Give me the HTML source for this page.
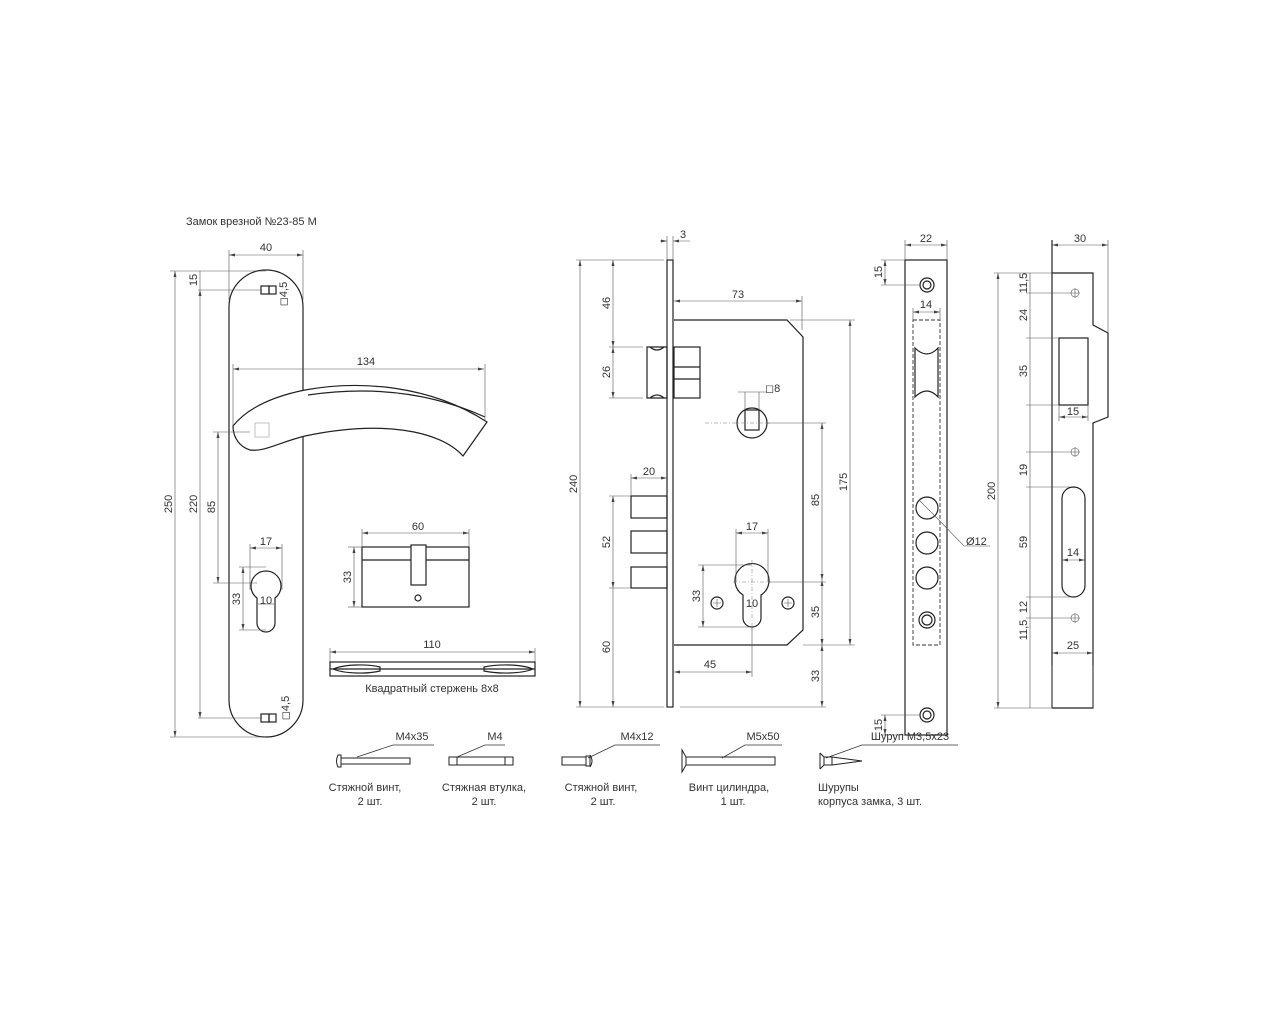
<!DOCTYPE html>
<html><head><meta charset="utf-8"><style>
html,body{margin:0;padding:0;background:#fff}
svg{display:block}
text{font-family:"Liberation Sans Narrow","Liberation Sans",sans-serif;font-size:11px;fill:#333}
.o{fill:none;stroke:#222;stroke-width:1.2}
.d{fill:none;stroke:#555;stroke-width:0.6}
.c{fill:none;stroke:#777;stroke-width:0.5;stroke-dasharray:4 2 1 2}
.h{fill:none;stroke:#333;stroke-width:0.9;stroke-dasharray:4 2}
</style></head><body>
<svg width="1280" height="1024" viewBox="0 0 1280 1024" xmlns="http://www.w3.org/2000/svg">
<defs>
<marker id="a" markerWidth="6" markerHeight="6" refX="6" refY="3" orient="auto-start-reverse" markerUnits="userSpaceOnUse"><path d="M0,1.5 L6,3 L0,4.5z" fill="#444"/></marker>
</defs>
<g id="dims" class="d">
</g>
<text x="186" y="225">Замок врезной №23-85 М</text>

<!-- Handle plate -->
<path class="o" d="M229,307 A37,37 0 0 1 303,307 L303,700 A37,37 0 0 1 229,700 Z"/>
<rect class="o" x="261" y="286" width="8" height="8"/><rect class="o" x="269" y="286" width="7" height="8"/>
<rect class="o" x="261" y="714" width="8" height="8"/><rect class="o" x="269" y="714" width="7" height="8"/>
<text x="283" y="294" transform="rotate(-90 283 294)" text-anchor="middle" dy="4">◻4,5</text>
<text x="285" y="708" transform="rotate(-90 285 708)" text-anchor="middle" dy="4">◻4,5</text>
<!-- lever -->
<path class="o" fill="#fff" style="fill:#fff" d="M233,426 C250,405 280,395 305,390 C360,380 430,385 487,422 L463,456 C440,430 380,420 305,436 C280,442 265,452 250,450 C240,447 233,438 233,426 Z"/>
<path class="o" d="M308,395 C370,386 430,392 485,417"/>
<rect x="255" y="423" width="14" height="14" fill="none" stroke="#aaa" stroke-width="0.7"/>
<!-- cylinder hole on plate -->
<path class="o" d="M257,598 A15,15 0 1 1 275,598 L275,623 A9,9 0 0 1 257,623 Z"/>
<!-- handle dims -->
<g class="d">
<line x1="175" y1="271" x2="175" y2="737" marker-start="url(#a)" marker-end="url(#a)"/>
<line x1="170" y1="271" x2="266" y2="271"/><line x1="170" y1="737" x2="266" y2="737"/>
<line x1="200" y1="290" x2="200" y2="718" marker-start="url(#a)" marker-end="url(#a)"/>
<line x1="198" y1="290" x2="262" y2="290"/><line x1="198" y1="718" x2="262" y2="718"/>
<line x1="200" y1="271" x2="200" y2="290"/>
<line x1="218" y1="432" x2="218" y2="583" marker-start="url(#a)" marker-end="url(#a)"/>
<line x1="213" y1="432" x2="250" y2="432"/><line x1="213" y1="583" x2="257" y2="583"/>
<line x1="229" y1="255" x2="303" y2="255" marker-start="url(#a)" marker-end="url(#a)"/>
<line x1="229" y1="250" x2="229" y2="300"/><line x1="303" y1="250" x2="303" y2="300"/>
<line x1="233" y1="369" x2="484" y2="369" marker-start="url(#a)" marker-end="url(#a)"/>
<line x1="233" y1="364" x2="233" y2="426"/><line x1="485" y1="364" x2="485" y2="420"/>
<line x1="243" y1="567" x2="243" y2="630" marker-start="url(#a)" marker-end="url(#a)"/>
<line x1="239" y1="567" x2="266" y2="567"/><line x1="239" y1="630" x2="266" y2="630"/>
<line x1="250" y1="548" x2="282" y2="548" marker-start="url(#a)" marker-end="url(#a)"/>
<line x1="250" y1="544" x2="250" y2="590"/><line x1="282" y1="544" x2="282" y2="590"/>
<line x1="258" y1="604" x2="274" y2="604"/>
</g>
<text x="266" y="251" text-anchor="middle">40</text>
<text x="366" y="365" text-anchor="middle">134</text>
<text x="266" y="545" text-anchor="middle">17</text>
<text x="266" y="604" text-anchor="middle">10</text>
<text transform="translate(172,504) rotate(-90)" text-anchor="middle">250</text>
<text transform="translate(197,504) rotate(-90)" text-anchor="middle">220</text>
<text transform="translate(215,507) rotate(-90)" text-anchor="middle">85</text>
<text transform="translate(197,280) rotate(-90)" text-anchor="middle">15</text>
<text transform="translate(240,599) rotate(-90)" text-anchor="middle">33</text>

<!-- cylinder -->
<rect class="o" x="362" y="547" width="107" height="60"/>
<line class="o" x1="362" y1="560" x2="469" y2="560"/>
<rect class="o" x="411" y="545" width="15" height="40" style="fill:#fff"/>
<circle class="o" cx="418" cy="598" r="3"/>
<g class="d">
<line x1="362" y1="533" x2="469" y2="533" marker-start="url(#a)" marker-end="url(#a)"/>
<line x1="362" y1="529" x2="362" y2="547"/><line x1="469" y1="529" x2="469" y2="547"/>
<line x1="354" y1="547" x2="354" y2="607" marker-start="url(#a)" marker-end="url(#a)"/>
<line x1="348" y1="547" x2="362" y2="547"/><line x1="348" y1="607" x2="362" y2="607"/>
</g>
<text x="418" y="530" text-anchor="middle">60</text>
<text transform="translate(351,577) rotate(-90)" text-anchor="middle">33</text>

<!-- square bar -->
<g class="d"><line x1="330" y1="652" x2="535" y2="652" marker-start="url(#a)" marker-end="url(#a)"/>
<line x1="330" y1="648" x2="330" y2="662"/><line x1="535" y1="648" x2="535" y2="662"/></g>
<rect class="o" x="330" y="662" width="205" height="14"/>
<line class="o" x1="330" y1="669" x2="535" y2="669"/>
<path class="o" d="M333,669 C345,664 368,664 380,667 L380,671 C368,674 345,674 333,669Z"/>
<path class="o" d="M533,669 C521,664 498,664 484,667 L484,671 C498,674 521,674 533,669Z"/>
<text x="432" y="648" text-anchor="middle">110</text>
<text x="432" y="692" text-anchor="middle">Квадратный стержень 8x8</text>

<!-- lock body -->
<rect class="o" x="667" y="260" width="6" height="447"/>
<path class="o" d="M674,320 L787,320 L803,337 L803,630 L787,645 L674,645"/>
<path class="o" d="M647,347 L667,347 L667,398 L647,398 Z M650,347 Q657,353 664,347 M650,398 Q657,392 664,398"/>
<rect class="o" x="674" y="347" width="26" height="51"/>
<line class="o" x1="674" y1="367" x2="700" y2="367"/><line class="o" x1="674" y1="379" x2="700" y2="379"/>
<rect class="o" x="631" y="496" width="36" height="22"/>
<rect class="o" x="631" y="531" width="36" height="22"/>
<rect class="o" x="631" y="567" width="36" height="21"/>
<circle class="o" cx="752" cy="423" r="15"/>
<rect class="o" x="745" y="410" width="14" height="20"/>
<line class="c" x1="705" y1="423" x2="770" y2="423"/>
<path class="o" d="M743,595 A17,17 0 1 1 761,595 L761,618 A9,9 0 0 1 743,618 Z"/>
<line class="c" x1="752" y1="560" x2="752" y2="630"/>
<line class="c" x1="733" y1="582" x2="771" y2="582"/>
<circle class="o" cx="717" cy="603" r="6"/><path class="d" d="M713,603h8M717,599v8"/>
<circle class="o" cx="788" cy="603" r="6"/><path class="d" d="M784,603h8M788,599v8"/>
<g class="d">
<line x1="580" y1="260" x2="580" y2="707" marker-start="url(#a)" marker-end="url(#a)"/>
<line x1="576" y1="260" x2="664" y2="260"/><line x1="576" y1="707" x2="664" y2="707"/>
<line x1="613" y1="260" x2="613" y2="347" marker-start="url(#a)" marker-end="url(#a)"/>
<line x1="613" y1="347" x2="613" y2="398" marker-start="url(#a)" marker-end="url(#a)"/>
<line x1="609" y1="347" x2="643" y2="347"/><line x1="609" y1="398" x2="643" y2="398"/>
<line x1="613" y1="496" x2="613" y2="588" marker-start="url(#a)" marker-end="url(#a)"/>
<line x1="609" y1="496" x2="631" y2="496"/><line x1="609" y1="588" x2="631" y2="588"/>
<line x1="613" y1="588" x2="613" y2="707" marker-end="url(#a)"/>
<line x1="631" y1="478" x2="667" y2="478" marker-start="url(#a)" marker-end="url(#a)"/>
<line x1="631" y1="474" x2="631" y2="496"/>
<line x1="660" y1="241" x2="667" y2="241" marker-end="url(#a)"/><line x1="673" y1="241" x2="690" y2="241" marker-start="url(#a)"/>
<line x1="667" y1="236" x2="667" y2="260"/><line x1="673" y1="236" x2="673" y2="260"/>
<line x1="674" y1="301" x2="802" y2="301" marker-start="url(#a)" marker-end="url(#a)"/>
<line x1="802" y1="296" x2="802" y2="330"/>
<line x1="850" y1="320" x2="850" y2="645" marker-start="url(#a)" marker-end="url(#a)"/>
<line x1="790" y1="320" x2="855" y2="320"/><line x1="803" y1="645" x2="855" y2="645"/>
<line x1="822" y1="423" x2="822" y2="580" marker-start="url(#a)" marker-end="url(#a)"/>
<line x1="822" y1="580" x2="822" y2="645" marker-start="url(#a)" marker-end="url(#a)"/>
<line x1="822" y1="645" x2="822" y2="707" marker-start="url(#a)" marker-end="url(#a)"/>
<line x1="767" y1="423" x2="826" y2="423"/><line x1="769" y1="582" x2="826" y2="582"/>
<line x1="680" y1="707" x2="826" y2="707"/>
<line x1="736" y1="533" x2="768" y2="533" marker-start="url(#a)" marker-end="url(#a)"/>
<line x1="736" y1="529" x2="736" y2="582"/><line x1="768" y1="529" x2="768" y2="582"/>
<line x1="703" y1="565" x2="703" y2="627" marker-start="url(#a)" marker-end="url(#a)"/>
<line x1="698" y1="565" x2="752" y2="565"/><line x1="698" y1="627" x2="752" y2="627"/>
<line x1="674" y1="672" x2="752" y2="672" marker-start="url(#a)" marker-end="url(#a)"/>
<line x1="752" y1="627" x2="752" y2="677"/>
<line x1="745" y1="392" x2="745" y2="410"/><line x1="759" y1="392" x2="759" y2="410"/>
<line x1="738" y1="392" x2="766" y2="392"/>
</g>
<text x="680" y="238">3</text>
<text x="738" y="298" text-anchor="middle">73</text>
<text x="649" y="475" text-anchor="middle">20</text>
<text x="752" y="530" text-anchor="middle">17</text>
<text x="752" y="607" text-anchor="middle">10</text>
<text x="710" y="668" text-anchor="middle">45</text>
<text x="765" y="392">◻8</text>
<text transform="translate(577,484) rotate(-90)" text-anchor="middle">240</text>
<text transform="translate(610,303) rotate(-90)" text-anchor="middle">46</text>
<text transform="translate(610,372) rotate(-90)" text-anchor="middle">26</text>
<text transform="translate(610,542) rotate(-90)" text-anchor="middle">52</text>
<text transform="translate(610,647) rotate(-90)" text-anchor="middle">60</text>
<text transform="translate(847,482) rotate(-90)" text-anchor="middle">175</text>
<text transform="translate(819,500) rotate(-90)" text-anchor="middle">85</text>
<text transform="translate(819,612) rotate(-90)" text-anchor="middle">35</text>
<text transform="translate(819,676) rotate(-90)" text-anchor="middle">33</text>
<text transform="translate(700,596) rotate(-90)" text-anchor="middle">33</text>

<!-- face plate -->
<rect class="o" x="905" y="260" width="42" height="475"/>
<circle class="o" cx="927" cy="285" r="7"/><circle class="o" cx="927" cy="285" r="4"/>
<circle class="o" cx="927" cy="715" r="7"/><circle class="o" cx="927" cy="715" r="4"/>
<rect class="h" x="913" y="320" width="27" height="325"/>
<path class="o" d="M915,348 Q927,360 938,348 L938,397 Q927,385 915,397 Z"/>
<circle class="o" cx="927" cy="508" r="11"/>
<circle class="o" cx="927" cy="543" r="11"/>
<circle class="o" cx="927" cy="578" r="11"/>
<circle class="o" cx="927" cy="620" r="8"/><circle class="o" cx="927" cy="620" r="5"/>
<g class="d">
<line x1="905" y1="245" x2="947" y2="245" marker-start="url(#a)" marker-end="url(#a)"/>
<line x1="905" y1="240" x2="905" y2="260"/><line x1="947" y1="240" x2="947" y2="260"/>
<line x1="885" y1="260" x2="885" y2="285" marker-start="url(#a)" marker-end="url(#a)"/>
<line x1="881" y1="260" x2="905" y2="260"/><line x1="881" y1="285" x2="920" y2="285"/>
<line x1="885" y1="715" x2="885" y2="735" marker-start="url(#a)" marker-end="url(#a)"/>
<line x1="881" y1="715" x2="920" y2="715"/><line x1="881" y1="735" x2="905" y2="735"/>
<line x1="913" y1="312" x2="940" y2="312" marker-start="url(#a)" marker-end="url(#a)"/>
<line x1="913" y1="308" x2="913" y2="320"/><line x1="940" y1="308" x2="940" y2="320"/>
<line x1="919" y1="500" x2="935" y2="516"/>
<polyline points="935,516 964,546 990,546"/>
</g>
<text x="926" y="242" text-anchor="middle">22</text>
<text x="926" y="308" text-anchor="middle">14</text>
<text x="966" y="545">Ø12</text>
<text transform="translate(882,272) rotate(-90)" text-anchor="middle">15</text>
<text transform="translate(882,725) rotate(-90)" text-anchor="middle">15</text>

<!-- strike plate -->
<line class="o" x1="1052" y1="240" x2="1052" y2="708"/>
<path class="o" d="M1052,273 L1093,273 L1093,325 L1108,333 L1108,417 L1093,423 L1093,708 L1052,708"/>
<rect class="o" x="1059" y="338" width="29" height="67"/>
<rect class="o" x="1062" y="487" width="23" height="110" rx="11.5"/>
<g class="d">
<path d="M1070,293h10M1075,288v10"/><circle cx="1075" cy="293" r="4"/>
<path d="M1070,452h10M1075,447v10"/><circle cx="1075" cy="452" r="4"/>
<path d="M1070,618h10M1075,613v10"/><circle cx="1075" cy="618" r="4"/>
<line x1="1052" y1="245" x2="1108" y2="245" marker-start="url(#a)" marker-end="url(#a)"/>
<line x1="1108" y1="240" x2="1108" y2="333"/>
<line x1="998" y1="273" x2="998" y2="708" marker-start="url(#a)" marker-end="url(#a)"/>
<line x1="994" y1="273" x2="1052" y2="273"/><line x1="994" y1="708" x2="1052" y2="708"/>
<line x1="1030" y1="273" x2="1030" y2="708"/>
<line x1="1026" y1="293" x2="1070" y2="293"/>
<line x1="1026" y1="338" x2="1059" y2="338"/><line x1="1026" y1="405" x2="1059" y2="405"/>
<line x1="1026" y1="452" x2="1070" y2="452"/>
<line x1="1026" y1="487" x2="1070" y2="487"/><line x1="1026" y1="597" x2="1070" y2="597"/>
<line x1="1026" y1="618" x2="1070" y2="618"/>
<line x1="1059" y1="417" x2="1088" y2="417" marker-start="url(#a)" marker-end="url(#a)"/>
<line x1="1059" y1="405" x2="1059" y2="421"/><line x1="1088" y1="405" x2="1088" y2="421"/>
<line x1="1062" y1="560" x2="1085" y2="560" marker-start="url(#a)" marker-end="url(#a)"/>
<line x1="1052" y1="653" x2="1093" y2="653" marker-start="url(#a)" marker-end="url(#a)"/>
<line x1="1052" y1="708" x2="1052" y2="665"/><line x1="1093" y1="708" x2="1093" y2="665"/>
</g>
<text x="1080" y="242" text-anchor="middle">30</text>
<text x="1073" y="415" text-anchor="middle">15</text>
<text x="1073" y="556" text-anchor="middle">14</text>
<text x="1073" y="649" text-anchor="middle">25</text>
<text transform="translate(995,491) rotate(-90)" text-anchor="middle">200</text>
<text transform="translate(1027,283) rotate(-90)" text-anchor="middle">11,5</text>
<text transform="translate(1027,315) rotate(-90)" text-anchor="middle">24</text>
<text transform="translate(1027,371) rotate(-90)" text-anchor="middle">35</text>
<text transform="translate(1027,470) rotate(-90)" text-anchor="middle">19</text>
<text transform="translate(1027,542) rotate(-90)" text-anchor="middle">59</text>
<text transform="translate(1027,607) rotate(-90)" text-anchor="middle">12</text>
<text transform="translate(1027,630) rotate(-90)" text-anchor="middle">11,5</text>

<!-- fasteners -->
<g class="o" style="stroke-width:1">
<path d="M338,755 Q335,761 338,767 L341,767 L341,755Z"/>
<rect x="341" y="758" width="69" height="6"/>
<rect x="449" y="757" width="64" height="8"/><line x1="457" y1="757" x2="457" y2="765"/><line x1="505" y1="757" x2="505" y2="765"/>
<rect x="562" y="757" width="24" height="8"/><rect x="586" y="756" width="4" height="10"/><path d="M590,755 Q594,761 590,767"/>
<path d="M682,750 L686,757 L686,765 L682,772Z"/><rect x="686" y="757" width="89" height="8"/>
<path d="M820,753 L820,769 M820,753 L824,757 L824,765 L820,769"/><rect x="824" y="757" width="8" height="8"/><path d="M832,757 L862,761 L832,765"/>
</g>
<g class="d" style="stroke:#333;stroke-width:0.8">
<polyline points="357,757 393,745 434,745"/>
<polyline points="457,757 485,745 505,745"/>
<polyline points="588,758 615,745 660,745"/>
<polyline points="722,758 745,745 782,745"/>
<polyline points="826,758 862,745 958,745"/>
</g>
<text x="412" y="740" text-anchor="middle">M4x35</text>
<text x="495" y="740" text-anchor="middle">M4</text>
<text x="637" y="740" text-anchor="middle">M4x12</text>
<text x="763" y="740" text-anchor="middle">M5x50</text>
<text x="910" y="740" text-anchor="middle">Шуруп М3,5х23</text>
<text x="365" y="791" text-anchor="middle">Стяжной винт,</text>
<text x="370" y="805" text-anchor="middle">2 шт.</text>
<text x="484" y="791" text-anchor="middle">Стяжная втулка,</text>
<text x="484" y="805" text-anchor="middle">2 шт.</text>
<text x="601" y="791" text-anchor="middle">Стяжной винт,</text>
<text x="603" y="805" text-anchor="middle">2 шт.</text>
<text x="729" y="791" text-anchor="middle">Винт цилиндра,</text>
<text x="733" y="805" text-anchor="middle">1 шт.</text>
<text x="818" y="791">Шурупы</text>
<text x="818" y="805">корпуса замка, 3 шт.</text>
</svg>
</body></html>
